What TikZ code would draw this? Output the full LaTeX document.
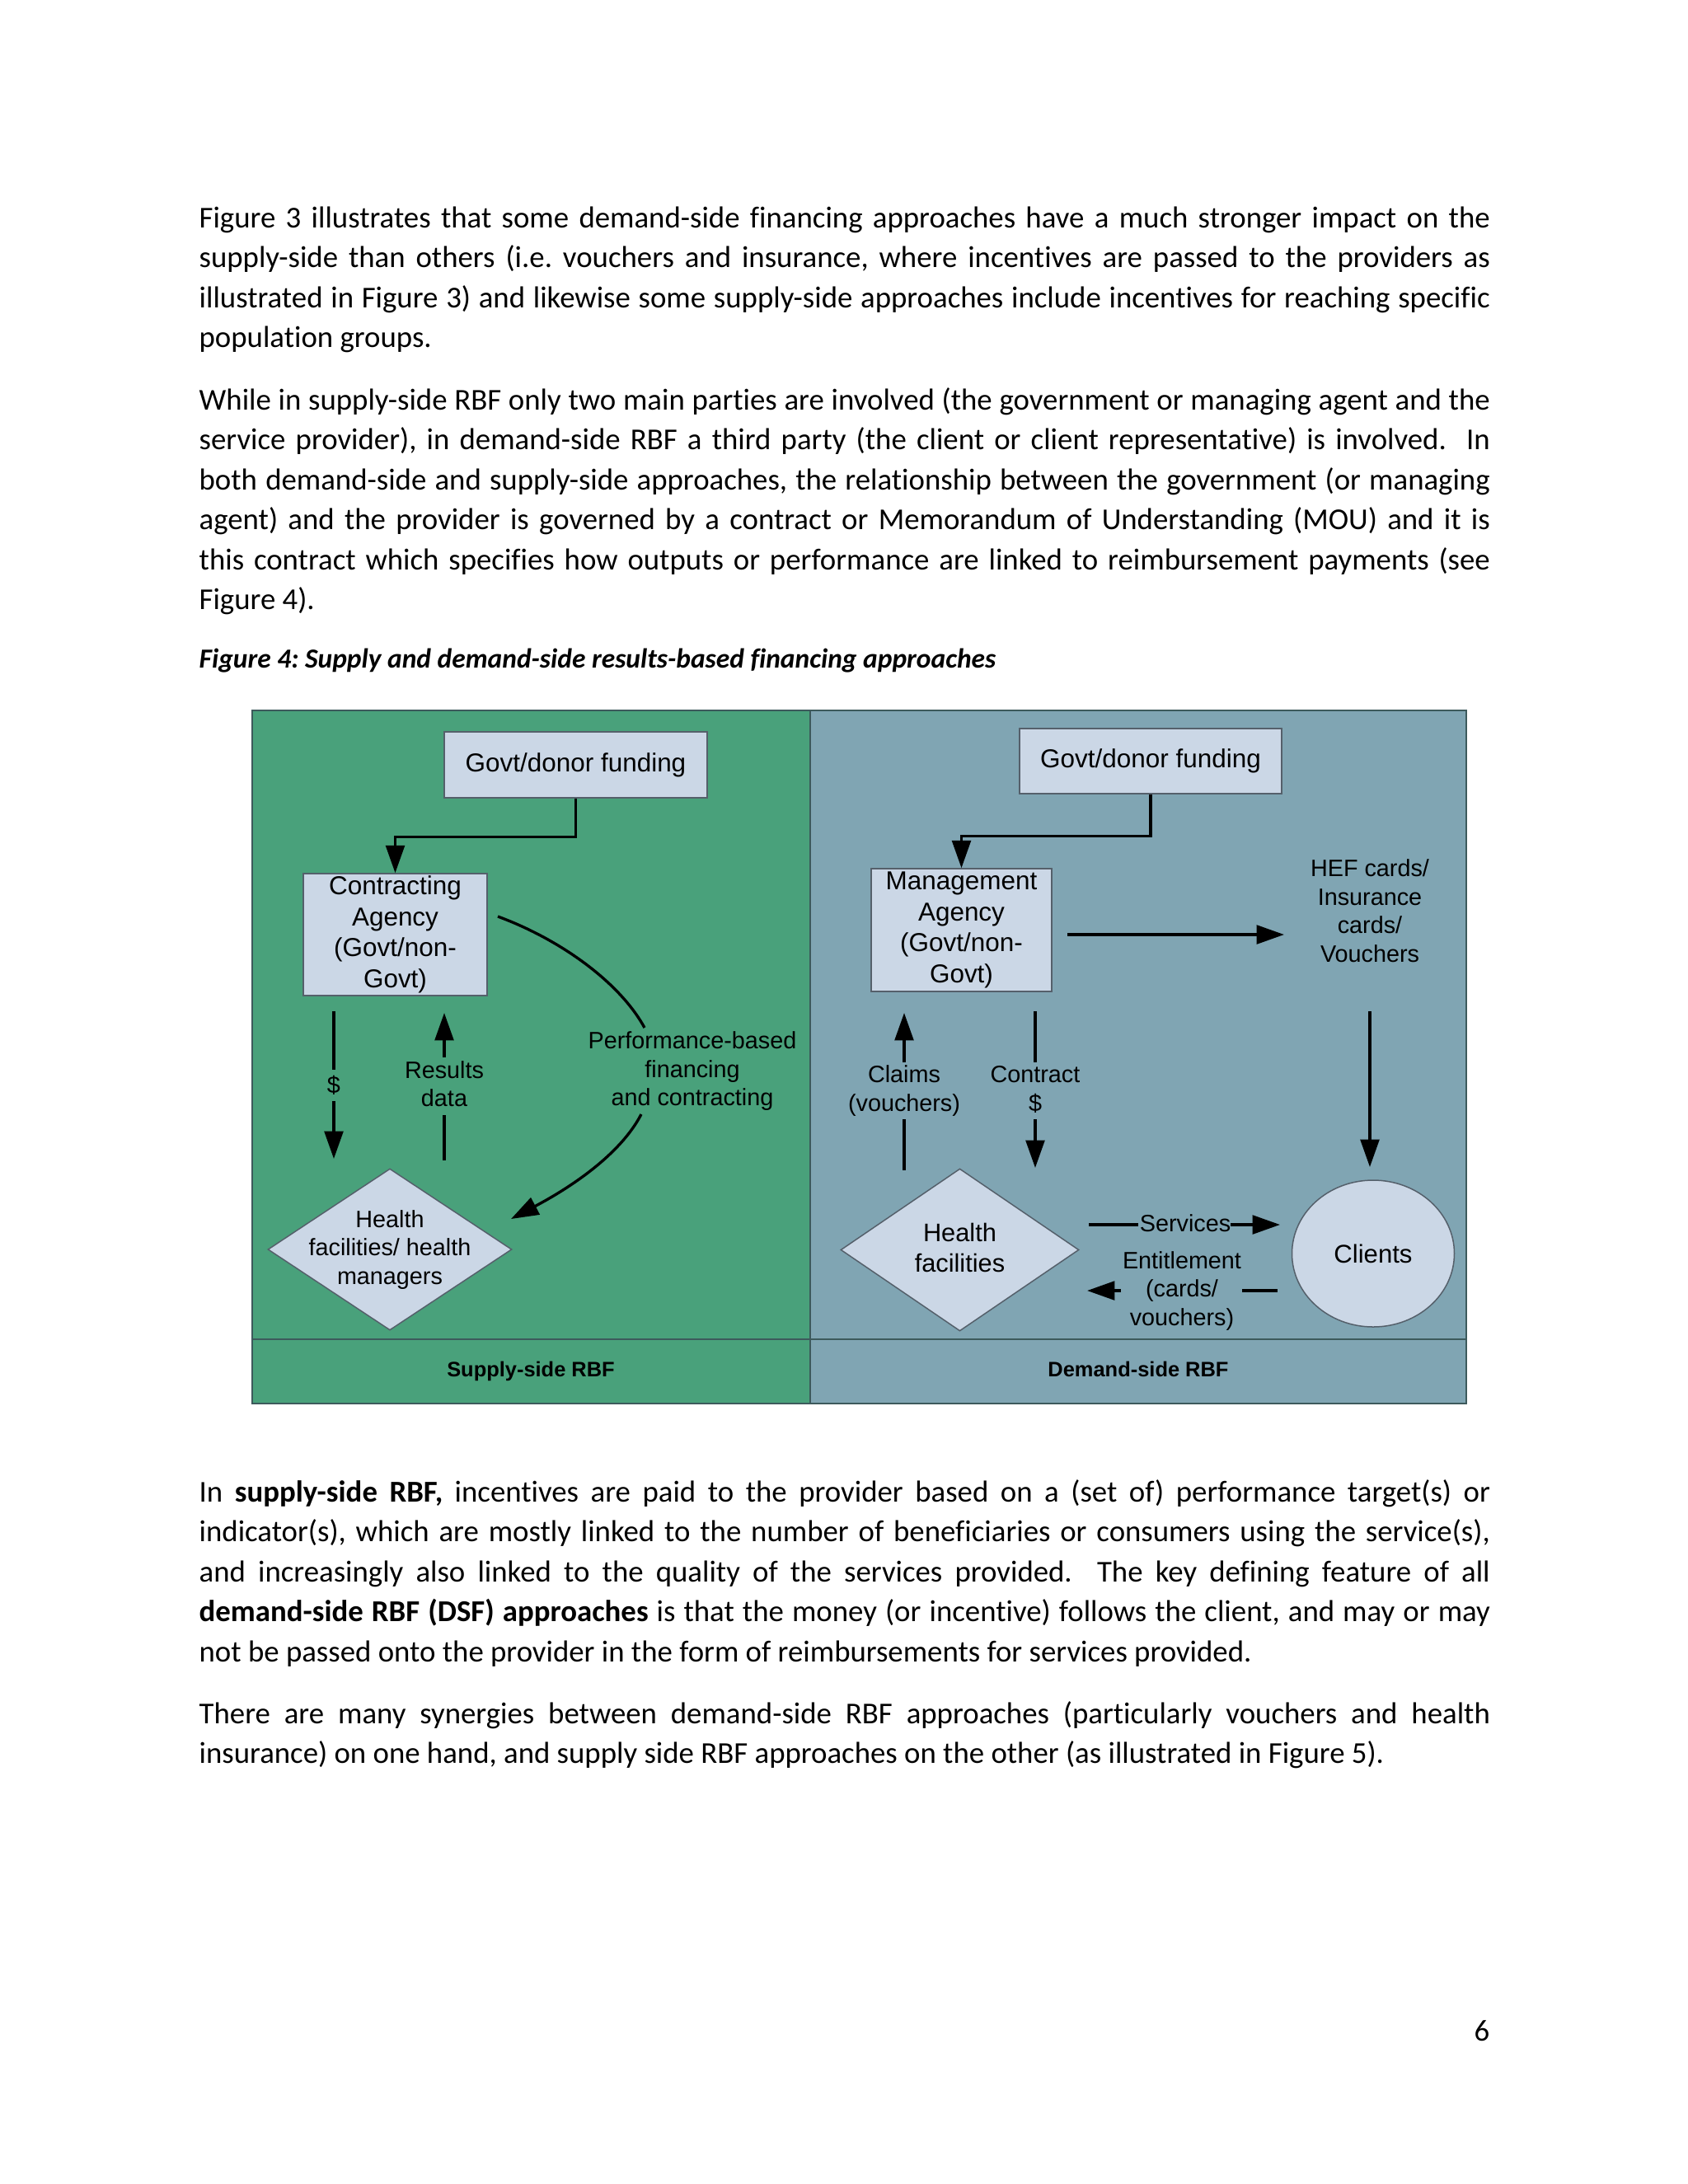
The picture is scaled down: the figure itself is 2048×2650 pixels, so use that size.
\documentclass[tikz,border=0pt]{standalone}
\usepackage{fontspec}
\setmainfont{Carlito}[Ligatures=NoCommon]
\newfontfamily\arialf{Liberation Sans}
\usetikzlibrary{arrows.meta,shapes.geometric}
\definecolor{panelgreen}{HTML}{49A17B}
\definecolor{panelblue}{HTML}{80A5B3}
\definecolor{boxfill}{HTML}{CBD7E6}
\definecolor{boxline}{HTML}{55606B}
\definecolor{frameline}{HTML}{3D5A5C}
\newcommand{\pxu}{0.2988pt}
\begin{document}
\frenchspacing
\begin{tikzpicture}[x=0.2988pt,y=-0.2988pt,
  box/.style={draw=boxline,line width=0.45pt,fill=boxfill,inner sep=0pt,align=center,font=\arialf\fontsize{9.4}{11.2}\selectfont},
  dia/.style={diamond,draw=boxline,line width=0.45pt,fill=boxfill,inner sep=0pt},
  lbl/.style={inner sep=0pt,align=center,font=\arialf\fontsize{8.6}{10.3}\selectfont},
  flow/.style={line width=1pt,-{Triangle[length=10pt,width=6.8pt]}},
  seg/.style={line width=1pt},
  body/.style={anchor=base west,inner sep=0pt,font=\fontsize{11}{13}\selectfont},
  foot/.style={anchor=base,inner sep=0pt,font=\arialf\bfseries\fontsize{7.6}{9}\selectfont},
]
\useasboundingbox (0,0) rectangle (2048,2650);
\fill[white] (0,0) rectangle (2048,2650);

% ---------- body text ----------
\node[body] (p1a) at (241,276) {\makebox[468pt][s]{Figure 3 illustrates that some demand-side financing approaches have a much stronger impact on the}};
\node[body] (p1b) at (241,324.5) {\makebox[468pt][s]{supply-side than others (i.e. vouchers and insurance, where incentives are passed to the providers as}};
\node[body] (p1c) at (241,373) {\makebox[468pt][s]{illustrated in Figure 3) and likewise some supply-side approaches include incentives for reaching specific}};
\node[body] (p1d) at (241,421.5) {population groups.};

\node[body] (p2a) at (241,497) {\makebox[468pt][s]{While in supply-side RBF only two main parties are involved (the government or managing agent and the}};
\node[body] (p2b) at (241,545.5) {\makebox[468pt][s]{service provider), in demand-side RBF a third party (the client or client representative) is involved.\ \ In}};
\node[body] (p2c) at (241,594) {\makebox[468pt][s]{both demand-side and supply-side approaches, the relationship between the government (or managing}};
\node[body] (p2d) at (241,642.5) {\makebox[468pt][s]{agent) and the provider is governed by a contract or Memorandum of Understanding (MOU) and it is}};
\node[body] (p2e) at (241,691) {\makebox[468pt][s]{this contract which specifies how outputs or performance are linked to reimbursement payments (see}};
\node[body] (p2f) at (241,739.5) {Figure 4).};

\node[anchor=base west,inner sep=0pt,font=\bfseries\itshape\fontsize{10}{12}\selectfont] (cap) at (241,810) {Figure 4: Supply and demand-side results-based financing approaches};

\node[body] (p3a) at (241,1822) {\makebox[468pt][s]{In \textbf{supply-side RBF,} incentives are paid to the provider based on a (set of) performance target(s) or}};
\node[body] (p3b) at (241,1870.5) {\makebox[468pt][s]{indicator(s), which are mostly linked to the number of beneficiaries or consumers using the service(s),}};
\node[body] (p3c) at (241,1919) {\makebox[468pt][s]{and increasingly also linked to the quality of the services provided.\ \ The key defining feature of all}};
\node[body] (p3d) at (241,1967.5) {\makebox[468pt][s]{\textbf{demand-side RBF (DSF) approaches} is that the money (or incentive) follows the client, and may or may}};
\node[body] (p3e) at (241,2016) {not be passed onto the provider in the form of reimbursements for services provided.};

\node[body] (p4a) at (241,2091) {\makebox[468pt][s]{There are many synergies between demand-side RBF approaches (particularly vouchers and health}};
\node[body] (p4b) at (241,2139.5) {insurance) on one hand, and supply side RBF approaches on the other (as illustrated in Figure 5).};

\node[anchor=base east,inner sep=0pt,font=\fontsize{11}{13}\selectfont] (pnum) at (1808,2476) {6};

% ---------- diagram panels ----------
\fill[panelgreen] (306,862) rectangle (983,1703);
\fill[panelblue] (983,862) rectangle (1779,1703);
\draw[frameline,line width=0.5pt] (306,1625) -- (1779,1625);
\draw[frameline,line width=0.5pt] (983,862) -- (983,1703);
\draw[frameline,line width=0.6pt] (306,862) rectangle (1779,1703);
\node[foot] (fL) at (644,1670) {Supply-side RBF};
\node[foot] (fR) at (1381,1670) {Demand-side RBF};

% ---------- supply side ----------
\node[box,minimum width=319*\pxu,minimum height=80*\pxu] (gfL) at (698.5,928) {Govt/donor funding};
\node[box,minimum width=223*\pxu,minimum height=148*\pxu] (caL) at (479.5,1134) {Contracting\\Agency\\(Govt/non-\\Govt)};
\draw[flow] (gfL.south) -- ++(0,47) -| (caL.north);

\node[dia,minimum width=296*\pxu,minimum height=196*\pxu] (hfL) at (473,1516) {};
\node[lbl] (hfLt) at (473,1516.5) {Health\\facilities/ health\\managers};

\coordinate (dA) at (405,1227);
\coordinate (dB) at (405,1298);
\coordinate (dC) at (405,1336);
\coordinate (dD) at (405,1406);
\draw[seg] (dA) -- (dB);
\node[lbl] (dol) at (405,1317) {\$};
\draw[flow] (dC) -- (dD);

\coordinate (rA) at (539,1408);
\coordinate (rB) at (539,1353);
\coordinate (rC) at (539,1283);
\coordinate (rD) at (539,1229);
\draw[seg] (rA) -- (rB);
\node[lbl] (res) at (539,1315) {Results\\data};
\draw[flow] (rC) -- (rD);

\coordinate (pA) at (604,1112);
\coordinate (pB) at (782,1247);
\coordinate (pC) at (778,1352);
\coordinate (pD) at (620,1479);
\draw[seg] (pA) .. controls (680,1140) and (752,1192) .. (pB);
\node[lbl] (perf) at (840,1300) {Performance-based\\financing\\and contracting};
\draw[flow] (pC) .. controls (752,1402) and (690,1442) .. (pD);

% ---------- demand side ----------
\node[box,minimum width=318*\pxu,minimum height=79*\pxu] (gfR) at (1396,923.5) {Govt/donor funding};
\node[box,minimum width=219*\pxu,minimum height=149*\pxu] (maR) at (1166.5,1128.5) {Management\\Agency\\(Govt/non-\\Govt)};
\draw[flow] (gfR.south) -- ++(0,50.5) -| (maR.north);

\node[lbl] (hef) at (1662,1105) {HEF cards/\\Insurance\\cards/\\Vouchers};
\coordinate (mA) at (1295,1134);
\coordinate (mB) at (1558,1134);
\draw[flow] (mA) -- (mB);

\node[dia,minimum width=289*\pxu,minimum height=197*\pxu] (hfR) at (1164.5,1516.5) {};
\node[inner sep=0pt,align=center,font=\arialf\fontsize{9.2}{11.1}\selectfont] (hfRt) at (1164.5,1514) {Health\\facilities};

\node[ellipse,draw=boxline,line width=0.45pt,fill=boxfill,inner sep=0pt,minimum width=197*\pxu,minimum height=178*\pxu,font=\arialf\fontsize{9.3}{11}\selectfont] (cli) at (1666,1521) {Clients};

\coordinate (kA) at (1662,1227);
\coordinate (kB) at (1662,1416);
\draw[flow] (kA) -- (kB);

\coordinate (cA) at (1097,1420);
\coordinate (cB) at (1097,1358);
\coordinate (cC) at (1097,1289);
\coordinate (cD) at (1097,1229);
\draw[seg] (cA) -- (cB);
\node[lbl] (clm) at (1097,1323.5) {Claims\\(vouchers)};
\draw[flow] (cC) -- (cD);

\coordinate (tA) at (1256,1227);
\coordinate (tB) at (1256,1289);
\coordinate (tC) at (1256,1358);
\coordinate (tD) at (1256,1417);
\draw[seg] (tA) -- (tB);
\node[lbl] (ctr) at (1256,1322) {Contract\\\$};
\draw[flow] (tC) -- (tD);

\coordinate (sA) at (1321,1486);
\coordinate (sB) at (1381,1486);
\coordinate (sC) at (1493,1486);
\coordinate (sD) at (1553,1486);
\draw[seg] (sA) -- (sB);
\node[lbl,anchor=base] (srv) at (1438,1494) {Services};
\draw[flow] (sC) -- (sD);

\coordinate (eA) at (1360,1566);
\coordinate (eB) at (1319,1566);
\coordinate (eC) at (1507,1566);
\coordinate (eD) at (1550,1566);
\node[lbl] (ent) at (1434,1566.5) {Entitlement\\(cards/\\vouchers)};
\draw[flow] (eA) -- (eB);
\draw[seg] (eC) -- (eD);
\end{tikzpicture}
\end{document}
